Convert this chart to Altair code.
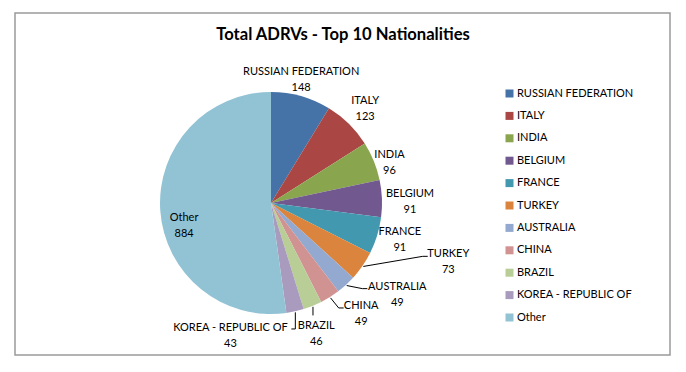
import math
import altair as alt
import pandas as pd

names = ["RUSSIAN FEDERATION", "ITALY", "INDIA", "BELGIUM", "FRANCE", "TURKEY",
         "AUSTRALIA", "CHINA", "BRAZIL", "KOREA - REPUBLIC OF", "Other"]
values = [148, 123, 96, 91, 91, 73, 49, 49, 46, 43, 884]
colors = ["#4573A7", "#AA4643", "#89A54E", "#71588F", "#4198AF", "#DB843D",
          "#93A9CF", "#D19392", "#B9CD96", "#A99BBD", "#92C3D4"]
title_text = "Total ADRVs - Top 10 Nationalities"

# layout (pixels, in view coordinates)
CX, CY, R = 256, 190, 111
lab_r = [127, 133, 125, 139, 134, 187, 156, 143, 139, 139, 90]
lab_dang = [-2, 0.5, 3.6, 2, -1, -16, -11.5, -7, 3, 29.5, -11]
leader = [None, None, None, None, None, "r", "r", "r", "v", "l", None]
FONT = "Lato"

total = sum(values)
rows, lab_rows, lead_rows = [], [], []
cum = 0
for i, (n, v) in enumerate(zip(names, values)):
    mid = (cum + v / 2) / total * 360
    cum += v
    rows.append({"idx": i, "name": n, "value": v})
    a = math.radians(mid + lab_dang[i])
    lx = CX + lab_r[i] * math.sin(a)
    ly = CY - lab_r[i] * math.cos(a)
    lab_rows.append({"name": n, "label": f"{n}\n{v}", "x": lx, "y": ly})
    if leader[i]:
        am = math.radians(mid)
        sx = CX + (R + 1) * math.sin(am)
        sy = CY - (R + 1) * math.cos(am)
        hw = len(n) * 3.1
        if leader[i] == "r":
            ex, ey = lx - hw - 2, ly - 6
            pts = [(sx, sy), (ex - 5, ey), (ex, ey)]
        elif leader[i] == "v":
            pts = [(sx, sy), (sx, ly - 19)]
        else:
            ex, ey = lx + hw + 2, ly - 7
            pts = [(sx, sy), (sx, ey), (ex, ey)]
        for k, (px, py) in enumerate(pts):
            lead_rows.append({"lid": n, "k": k, "x": px, "y": py})

df = pd.DataFrame(rows)
df_lab = pd.DataFrame(lab_rows)
df_lead = pd.DataFrame(lead_rows)

pie = alt.Chart(df).mark_arc(outerRadius=R).encode(
    x=alt.value(CX), y=alt.value(CY),
    theta=alt.Theta("value:Q", stack=True),
    order=alt.Order("idx:Q"),
    color=alt.Color("name:N", sort=names,
                    scale=alt.Scale(domain=names, range=colors),
                    legend=alt.Legend(title=None, orient="none", legendX=489, legendY=75,
                                      symbolType="square", symbolSize=64,
                                      symbolStrokeWidth=0,
                                      labelFont=FONT, labelFontSize=11,
                                      labelColor="#000000", rowPadding=10.4,
                                      labelOffset=2, padding=0)),
)

labels = alt.Chart(df_lab).mark_text(font=FONT, fontSize=11, lineBreak="\n",
                                     lineHeight=16, align="center", dy=-8,
                                     baseline="middle", color="#000000").encode(
    x=alt.X("x:Q", scale=None, axis=None),
    y=alt.Y("y:Q", scale=None, axis=None),
    text="label:N",
)

leads = alt.Chart(df_lead).mark_line(color="#000000", strokeWidth=1).encode(
    x=alt.X("x:Q", scale=None, axis=None),
    y=alt.Y("y:Q", scale=None, axis=None),
    detail="lid:N",
    order="k:Q",
)

title = alt.Chart(pd.DataFrame({"t": [title_text]})).mark_text(
    font=FONT, fontSize=16.6, fontWeight="bold", align="center",
    baseline="middle", color="#000000").encode(
    x=alt.value(328), y=alt.value(22), text="t:N")

chart = alt.layer(pie, leads, labels, title).properties(
    width=655, height=342,
    padding={"left": 7, "top": 5, "right": 8, "bottom": 9},
    autosize=alt.AutoSizeParams(type="none"),
).configure_view(stroke="#9a9a9a", strokeWidth=1.5)

chart.save("out.html", embed_options={"renderer": "svg", "actions": False})
